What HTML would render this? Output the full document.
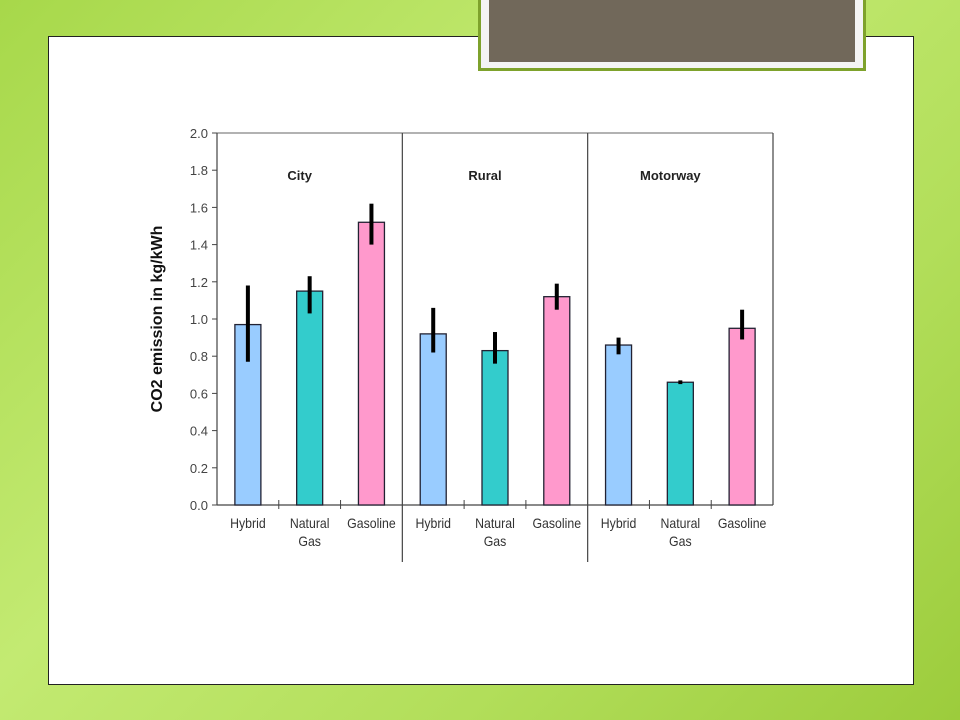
<!DOCTYPE html>
<html><head><meta charset="utf-8"><style>
html,body{margin:0;padding:0;width:960px;height:720px;overflow:hidden}
body{background:linear-gradient(135deg,#a7d84a 0%,#c3ea72 40%,#b2de5a 70%,#9ccc3c 100%);position:relative;font-family:"Liberation Sans",sans-serif}
#slide{position:absolute;left:48px;top:36px;width:864px;height:647px;background:#fff;border:1px solid #222}
#title{position:absolute;left:478px;top:-4px;width:388px;height:75px;background:#f4f4f4;border:3px solid #7ea22c;box-sizing:border-box}
#title div{position:absolute;left:8px;top:0;right:8px;height:63px;background:#71685a}
svg{position:absolute;left:0;top:0}
</style></head><body>
<div id="slide"></div>
<div id="title"><div></div></div>
<svg id="chart" width="960" height="720"></svg>
<script>
const groups=["City","Rural","Motorway"];
const categories=["Hybrid","Natural Gas","Gasoline"];
const values=[[0.97,1.15,1.52],[0.92,0.83,1.12],[0.86,0.66,0.95]];
const errLow=[[0.77,1.03,1.40],[0.82,0.76,1.05],[0.81,0.65,0.89]];
const errHigh=[[1.18,1.23,1.62],[1.06,0.93,1.19],[0.90,0.67,1.05]];
const yTicks=["0.0","0.2","0.4","0.6","0.8","1.0","1.2","1.4","1.6","1.8","2.0"];
const colors=["#99ccff","#33cccc","#ff99cc"];
const svg=document.getElementById('chart'),NS="http://www.w3.org/2000/svg";
const X0=217,X1=773,Y0=505,Y1=133,YMAX=2.0;
const y=v=>Y0-(v/YMAX)*(Y0-Y1);
const slot=(X1-X0)/9;
const x=(g,c)=>X0+(g*3+c+0.5)*slot;
function mk(t,a,txt){const e=document.createElementNS(NS,t);for(const k in a)e.setAttribute(k,a[k]);if(txt!=null)e.textContent=txt;svg.appendChild(e);return e;}
const font='"Liberation Sans",sans-serif';
let e=mk('line',{x1:X0,y1:Y1,x2:X1,y2:Y1,stroke:'#999','stroke-width':1.5});

e=mk('line',{x1:X1,y1:Y1,x2:X1,y2:Y0,stroke:'#444','stroke-width':1.2});

e=mk('line',{x1:X0,y1:Y1,x2:X0,y2:Y0,stroke:'#444','stroke-width':1.2});

e=mk('line',{x1:X0,y1:Y0,x2:X1,y2:Y0,stroke:'#444','stroke-width':1.2});

yTicks.forEach(t=>{const yy=y(parseFloat(t));
 let l=mk('line',{x1:X0-5,y1:yy,x2:X0,y2:yy,stroke:'#444','stroke-width':1});
 
 let tx=mk('text',{x:X0-9,y:yy+5,'text-anchor':'end','font-size':13,fill:'#444','font-family':font},t);
 });
e=mk('text',{x:0,y:0,transform:`translate(162,${(Y0+Y1)/2}) rotate(-90)`,'text-anchor':'middle','font-size':16,'font-weight':'bold',fill:'#111','font-family':font},'CO2 emission in kg/kWh');

groups.forEach((g,gi)=>{
 if(gi>0){const dx=X0+gi*3*slot;
  let d=mk('line',{x1:dx,y1:Y1,x2:dx,y2:562,stroke:'#444','stroke-width':1.2});
  }
 let gt=mk('text',{x:x(gi,1)-10,y:180,'text-anchor':'middle','font-size':13,'font-weight':'bold',fill:'#222','font-family':font},g);
 
 categories.forEach((c,ci)=>{
  const cx=x(gi,ci);
  if(ci>0){let t=mk('line',{x1:cx-slot/2,y1:Y0-5,x2:cx-slot/2,y2:Y0+4,stroke:'#444','stroke-width':1});
   }
  let r=mk('rect',{x:cx-13,y:y(values[gi][ci]),width:26,height:Y0-y(values[gi][ci]),fill:colors[ci],stroke:'#223','stroke-width':1.3});
  
  let eb=mk('line',{x1:cx,y1:y(errLow[gi][ci]),x2:cx,y2:y(errHigh[gi][ci]),stroke:'#000','stroke-width':4});
  
  const parts=c.split(' ');
  parts.forEach((p,pi)=>{let lt=mk('text',{x:0,y:0,transform:`translate(${cx},${528+pi*18}) scale(0.88,1)`,'text-anchor':'middle','font-size':14,fill:'#333','font-family':font},p);
   });
 });
});
</script>
</body></html>
